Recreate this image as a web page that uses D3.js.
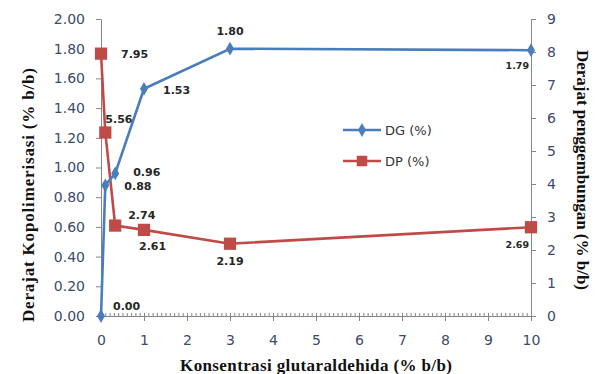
<!DOCTYPE html>
<html>
<head>
<meta charset="utf-8">
<script src="https://cdn.jsdelivr.net/npm/d3@7"></script>
<style>
  body { margin: 0; background: #fff; }
  svg { display: block; }
</style>
</head>
<body>
<div class="chart"></div>
<script>
	// data
	var concX = [0, 0.1, 0.33, 1, 3, 10];
	var dgValues = [0.00, 0.88, 0.96, 1.53, 1.80, 1.79];
	var dpValues = [7.95, 5.56, 2.74, 2.61, 2.19, 2.69];
	var xTicks = [0, 1, 2, 3, 4, 5, 6, 7, 8, 9, 10];
	var yLeftTicks = [0, 0.2, 0.4, 0.6, 0.8, 1.0, 1.2, 1.4, 1.6, 1.8, 2.0];
	var yRightTicks = [0, 1, 2, 3, 4, 5, 6, 7, 8, 9];

	// label placement (dx, dy, anchor, small)
	var dgLabelPos = [[12, -6, "start", 0], [19, 5, "start", 0], [18, 3, "start", 0],
		[19, 5, "start", 0], [0, -14, "middle", 0], [-2, 19, "end", 1]];
	var dpLabelPos = [[20, 4, "start", 0], [0, -10, "start", 0], [13, -7, "start", 0],
		[-5, 20, "start", 0], [0, 21, "middle", 0], [-2, 21, "end", 1]];

	var width = 602, height = 374;
	var blue = "#4a7ebb", red = "#be4b48", axisCol = "#868686", tickText = "#3d4a68";

	var svg = d3.select(".chart")
		.append("svg")
			.attr("width", width)
			.attr("height", height);

	// scales
	var x = d3.scaleLinear().domain([0, 10]).range([101, 531]);
	var yL = d3.scaleLinear().domain([0, 2]).range([316, 19]);
	var yR = d3.scaleLinear().domain([0, 9]).range([316, 19]);

	function styleAxis(g) {
		g.select(".domain").attr("stroke", axisCol).attr("stroke-width", 1);
		g.selectAll(".tick line").attr("stroke", axisCol);
		g.selectAll(".tick text")
			.attr("fill", tickText)
			.attr("font-family", "DejaVu Sans")
			.attr("font-size", "14px");
	}

	// left axis
	svg.append("g")
		.attr("transform", "translate(" + x(0) + ",0)")
		.call(d3.axisLeft(yL).tickValues(yLeftTicks).tickSize(5).tickSizeOuter(0)
			.tickPadding(11).tickFormat(d3.format(".2f")))
		.call(styleAxis);

	// right axis
	svg.append("g")
		.attr("transform", "translate(" + x(10) + ",0)")
		.call(d3.axisRight(yR).tickValues(yRightTicks).tickSize(5).tickSizeOuter(0)
			.tickPadding(11).tickFormat(d3.format("d")))
		.call(styleAxis);

	// x minor ticks
	svg.append("g")
		.attr("transform", "translate(0," + yL(0) + ")")
		.call(d3.axisTop(x).ticks(100).tickSize(3).tickSizeOuter(0).tickFormat(""))
		.call(function(g) {
			g.select(".domain").remove();
			g.selectAll(".tick line").attr("stroke", axisCol);
		});

	// x axis
	svg.append("g")
		.attr("transform", "translate(0," + yL(0) + ")")
		.call(d3.axisBottom(x).tickValues(xTicks).tickSize(5).tickSizeOuter(0)
			.tickPadding(14).tickFormat(d3.format("d")))
		.call(styleAxis);

	// axis titles
	function title(transform, len, txt) {
		svg.append("text")
			.attr("transform", transform)
			.attr("text-anchor", "middle")
			.attr("font-family", "Liberation Serif")
			.attr("font-weight", "bold")
			.attr("font-size", "17px")
			.attr("fill", "#111")
			.attr("textLength", len)
			.attr("lengthAdjust", "spacing")
			.text(txt);
	}
	title("translate(316,371)", 272, "Konsentrasi glutaraldehida (% b/b)");
	title("translate(34,195) rotate(-90)", 254, "Derajat Kopolimerisasi (% b/b)");
	title("translate(577,170) rotate(90)", 240, "Derajat penggembungan (% b/b)");

	// series
	var dgData = concX.map(function(c, i) { return { x: c, y: dgValues[i], pos: dgLabelPos[i] }; });
	var dpData = concX.map(function(c, i) { return { x: c, y: dpValues[i], pos: dpLabelPos[i] }; });

	var dgLine = d3.line().x(function(d) { return x(d.x); }).y(function(d) { return yL(d.y); });
	var dpLine = d3.line().x(function(d) { return x(d.x); }).y(function(d) { return yR(d.y); });

	svg.append("path")
		.datum(dpData)
		.attr("fill", "none")
		.attr("stroke", red)
		.attr("stroke-width", 2.6)
		.attr("d", dpLine);

	svg.append("path")
		.datum(dgData)
		.attr("fill", "none")
		.attr("stroke", blue)
		.attr("stroke-width", 2.6)
		.attr("d", dgLine);

	var square = d3.symbol().type(d3.symbolSquare).size(150);
	var diamond = d3.symbol().type(d3.symbolDiamond).size(55);

	svg.selectAll(".dpmark")
		.data(dpData)
		.enter()
		.append("path")
			.attr("class", "dpmark")
			.attr("fill", red)
			.attr("d", square)
			.attr("transform", function(d) { return "translate(" + x(d.x) + "," + yR(d.y) + ")"; });

	svg.selectAll(".dgmark")
		.data(dgData)
		.enter()
		.append("path")
			.attr("class", "dgmark")
			.attr("fill", blue)
			.attr("d", diamond)
			.attr("transform", function(d) { return "translate(" + x(d.x) + "," + yL(d.y) + ")"; });

	// data labels
	function addLabels(data, yScale, cls) {
		svg.selectAll("." + cls)
			.data(data)
			.enter()
			.append("text")
				.attr("class", cls)
				.attr("x", function(d) { return x(d.x) + d.pos[0]; })
				.attr("y", function(d) { return yScale(d.y) + d.pos[1]; })
				.attr("text-anchor", function(d) { return d.pos[2]; })
				.attr("font-family", "DejaVu Sans")
				.attr("font-weight", "bold")
				.attr("font-size", function(d) { return d.pos[3] ? "9.5px" : "11px"; })
				.attr("fill", "#262626")
				.text(function(d) { return d3.format(".2f")(d.y); });
	}
	addLabels(dgData, yL, "dglabel");
	addLabels(dpData, yR, "dplabel");

	// legend
	var legend = svg.append("g").attr("transform", "translate(343,0)");
	[["DG (%)", blue, diamond, 130], ["DP (%)", red, d3.symbol().type(d3.symbolSquare).size(110), 161]]
		.forEach(function(l) {
			legend.append("line")
				.attr("x1", 0).attr("x2", 38)
				.attr("y1", l[3]).attr("y2", l[3])
				.attr("stroke", l[1])
				.attr("stroke-width", 2.6);
			legend.append("path")
				.attr("d", l[2])
				.attr("fill", l[1])
				.attr("transform", "translate(19," + l[3] + ")");
			legend.append("text")
				.attr("x", 42)
				.attr("y", l[3] + 5)
				.attr("font-family", "DejaVu Sans")
				.attr("font-size", "13px")
				.attr("fill", "#333")
				.text(l[0]);
		});
</script>
</body>
</html>
